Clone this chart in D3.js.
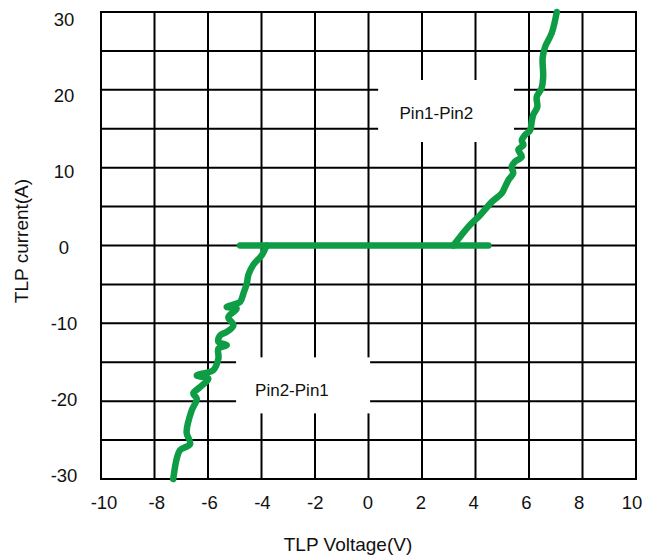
<!DOCTYPE html>
<html>
<head>
    <meta charset="utf-8">
    <script src="https://d3js.org/d3.v7.min.js"></script>
    <style>
        body { margin: 0; background: #fff; }
        text { font-family: "Liberation Sans", Arial, sans-serif; fill: #111; }
    </style>
</head>
<body>
<script>
    // axis ticks
    const voltTicks = [-10, -8, -6, -4, -2, 0, 2, 4, 6, 8, 10];
    const currentTicks = [30, 20, 10, 0, -10, -20, -30];
    const currentGrid = [30, 25, 20, 15, 10, 5, 0, -5, -10, -15, -20, -25, -30];

    // Pin1-Pin2 branch (positive)
    const pin12V = [3.17, 3.42, 3.73, 4.17, 4.61, 4.98, 5.10, 5.23, 5.41, 5.35, 5.48, 5.73, 5.60, 5.79,
                    5.73, 5.85, 6.04, 6.10, 6.16, 6.31, 6.29, 6.47, 6.53, 6.51, 6.60, 6.85, 7.04];
    const pin12I = [0, 1.1, 2.4, 3.9, 5.6, 6.7, 7.5, 8.4, 9.3, 10.1, 10.8, 11.4, 12.3, 12.9,
                    13.5, 14.2, 14.8, 15.9, 16.8, 17.8, 19.1, 20.2, 21.7, 24.1, 25.5, 27.3, 30];

    // Pin2-Pin1 branch (negative)
    const pin21V = [-7.30, -7.17, -7.05, -6.67, -6.80, -6.61, -6.42, -6.55, -6.30, -5.99, -6.42, -5.80, -5.61, -5.61,
                    -5.30, -5.61, -5.55, -5.30, -5.05, -5.24, -4.93, -5.30, -4.80, -4.68, -4.55, -4.49, -4.31, -3.99, -3.81];
    const pin21I = [-30, -27.4, -26.3, -25.5, -24.0, -21.2, -19.7, -19.0, -18.2, -17.1, -16.7, -16.0, -14.5, -13.25,
                    -12.8, -12.4, -11.55, -11.1, -10.25, -9.2, -8.1, -7.9, -7.25, -6.2, -4.9, -3.77, -2.5, -1.25, 0];

    // off-state segment
    const offV = [-4.80, 4.48];
    const offI = [0, 0];

    // label boxes: [v0, v1, i0, i1], text anchor [v, i]
    const labelNames = ["Pin1-Pin2", "Pin2-Pin1"];
    const labelBoxes = [[0.36, 5.44, 21.26, 13.3], [-4.95, 0.06, -14.37, -21.57]];
    const labelAt = [[1.16, 16.2], [-4.24, -19.3]];

    const W = 645, H = 559;
    const svg = d3.select("body").append("svg").attr("width", W).attr("height", H);

    const x = d3.scaleLinear().domain([-10, 10]).range([101, 636]);
    const y = d3.scaleLinear().domain([-30, 30]).range([479, 12]);
    // tick labels sit slightly inside the grid extent in the original
    const xLab = d3.scaleLinear().domain([-10, 10]).range([104, 632]);
    const yLab = d3.scaleLinear().domain([-30, 30]).range([475, 19.5]);

    const green = "#0e9c45";

    // grid
    const grid = svg.append("g").attr("stroke", "#000").attr("stroke-width", 2);
    grid.selectAll("line.v").data(voltTicks).enter().append("line")
        .attr("x1", d => x(d)).attr("x2", d => x(d))
        .attr("y1", y(30)).attr("y2", y(-30));
    grid.selectAll("line.h").data(currentGrid).enter().append("line")
        .attr("y1", d => y(d)).attr("y2", d => y(d))
        .attr("x1", x(-10) - 1).attr("x2", x(10) + 1);

    // white label boxes
    svg.selectAll("rect.lbl").data(labelBoxes).enter().append("rect")
        .attr("x", d => x(d[0])).attr("y", d => y(d[2]))
        .attr("width", d => x(d[1]) - x(d[0]))
        .attr("height", d => y(d[3]) - y(d[2]))
        .attr("fill", "#fff");

    // curves
    const line = d3.line().x(d => x(d[0])).y(d => y(d[1])).curve(d3.curveCatmullRom.alpha(0.5));
    const series = [
        d3.zip(offV, offI),
        d3.zip(pin12V, pin12I),
        d3.zip(pin21V, pin21I)
    ];
    svg.selectAll("path.curve").data(series).enter().append("path")
        .attr("d", line)
        .attr("fill", "none")
        .attr("stroke", green)
        .attr("stroke-width", 6.5)
        .attr("stroke-linejoin", "round")
        .attr("stroke-linecap", "round");

    // label texts
    svg.selectAll("text.lbl").data(labelNames).enter().append("text")
        .attr("x", (d, i) => x(labelAt[i][0]))
        .attr("y", (d, i) => y(labelAt[i][1]))
        .attr("font-size", 17)
        .text(d => d);

    // tick labels
    svg.selectAll("text.xt").data(voltTicks).enter().append("text")
        .attr("x", d => xLab(d)).attr("y", 509)
        .attr("text-anchor", "middle").attr("font-size", 18.5)
        .text(d => d);
    svg.selectAll("text.yt").data(currentTicks).enter().append("text")
        .attr("x", 64).attr("y", d => yLab(d))
        .attr("dy", "0.36em")
        .attr("text-anchor", "middle").attr("font-size", 18.5)
        .text(d => d);

    // axis titles
    svg.append("text")
        .attr("x", 348).attr("y", 551)
        .attr("text-anchor", "middle").attr("font-size", 19)
        .text("TLP Voltage(V)");
    svg.append("text")
        .attr("transform", "translate(28,241) rotate(-90)")
        .attr("text-anchor", "middle").attr("font-size", 19)
        .text("TLP current(A)");
</script>
</body>
</html>
